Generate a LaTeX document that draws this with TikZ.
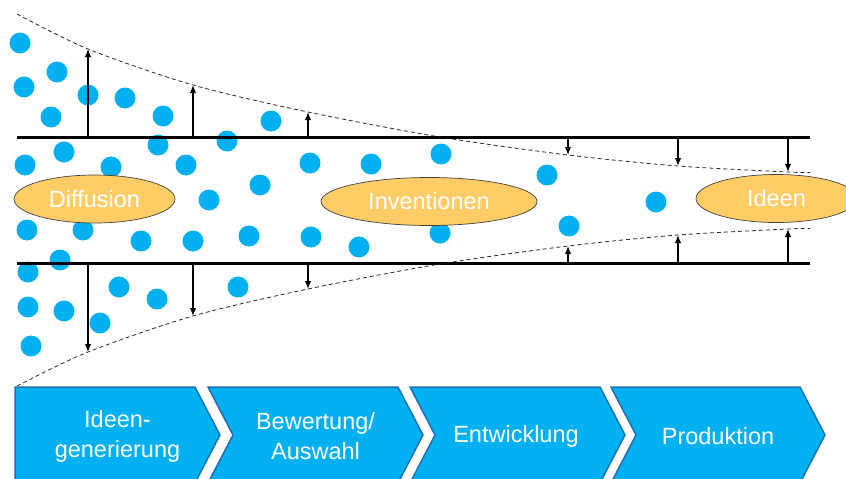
\documentclass[tikz,border=0pt]{standalone}
\usepackage{fontspec}
\setmainfont{Liberation Sans}
\usetikzlibrary{shapes.geometric,arrows.meta}
\definecolor{dotblue}{HTML}{00B0F0}
\definecolor{chevline}{HTML}{1F6FB8}
\definecolor{ideaorange}{HTML}{FFCC66}

\begin{document}
\begin{tikzpicture}[x=1pt, y=-1pt,
    dot/.style={fill=dotblue},
    axis/.style={line width=2.2pt, black},
    bound/.style={dashed, line width=0.8pt, black!85, dash pattern=on 4pt off 3pt},
    arr/.style={line width=1.4pt, -{Latex[length=8pt,width=6.5pt]}},
    idea/.style={ellipse, draw=black!75, line width=0.7pt, fill=ideaorange, text=white,
                 minimum width=161pt, minimum height=48pt, inner sep=0pt,
                 font=\fontsize{23.5}{28}\selectfont},
    chev/.style={fill=dotblue, draw=chevline, line width=1.5pt, line join=miter},
    stage/.style={text=white, align=center, font=\fontsize{23.5}{30}\selectfont}]
    \useasboundingbox (0,0) rectangle (846,479);
    \clip (0,0) rectangle (846,479);
    % the ideas as dots
    \foreach \x/\y in {20/43, 57/72, 24/87, 88/95, 125/98, 51/117, 163/116, 271/121,
        158/145, 227/141, 64/152, 25/165, 111/167, 186/165, 310/163, 371/164, 441/154,
        260/185, 209/200, 547/175, 656/202, 569/226, 27/230, 83/230, 141/241, 193/241,
        249/236, 311/237, 359/247, 440/233, 60/260, 28/272, 119/287, 157/299, 238/287,
        28/307, 64/311, 100/323, 31/346}
        \fill[dot] (\x,\y) circle (10.5pt);
    % the funnel
    \coordinate (L1) at (17,137.5);
    \coordinate (R1) at (810,137.5);
    \coordinate (L2) at (17,263.5);
    \coordinate (R2) at (810,263.5);
    \draw[axis] (L1) -- (R1);
    \draw[axis] (L2) -- (R2);
    \foreach \n/\x/\y in {1/88/49, 2/193/85, 3/308/112, 4/568/155, 5/678/166, 6/788/172} {
        \coordinate (u\n) at (\x,\y);
        \coordinate (v\n) at (\x,401-\y);
        \coordinate (a\n) at (\x,137.5);
        \coordinate (b\n) at (\x,263.5);
    }
    \draw[bound] plot[smooth] coordinates {(17,14) (u1) (u2) (u3) (440,137) (u4) (u5) (u6) (810,172.5)};
    \draw[bound] plot[smooth] coordinates {(17,386) (v1) (v2) (v3) (440,264) (v4) (v5) (v6) (810,228.5)};
    \foreach \n in {1,...,6} {
        \draw[arr] (a\n) -- (u\n);
        \draw[arr] (b\n) -- (v\n);
    }
    \node[idea] (diff) at (94.5,199) {Diffusion};
    \node[idea, minimum width=216pt] (inv) at (429,201.5) {Inventionen};
    \node[idea] (ideen) at (776.5,198.5) {Ideen};
    % the process chevrons
    \draw[chev] (15,387) -- (195,387) -- (220,435) -- (195,483) -- (15,483) -- cycle;
    \foreach \l/\r in {208/398, 410/600, 611/800}
        \draw[chev] (\l,387) -- (\r,387) -- (\r+25,435) -- (\r,483) -- (\l,483) -- (\l+25,435) -- cycle;
    \node[stage] (s1) at (117.5,436) {Ideen-\\generierung};
    \node[stage] (s2) at (315.5,436) {Bewertung/\\Auswahl};
    \node[stage] (s3) at (516,436) {Entwicklung};
    \node[stage] (s4) at (718,436) {Produktion};
\end{tikzpicture}
\end{document}
